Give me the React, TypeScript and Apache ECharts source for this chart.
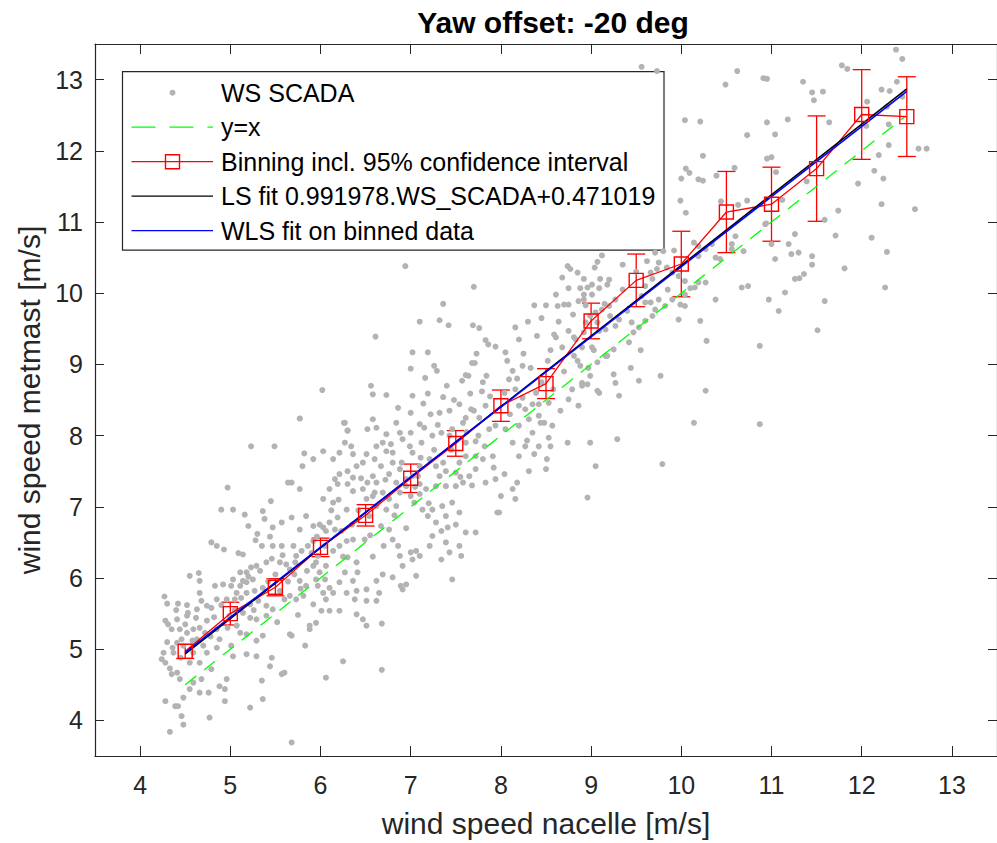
import React, { useEffect, useRef } from "react";
import * as echarts from "echarts";

// ---------- data ----------
const titleText = "Yaw offset: -20 deg";
const xAxisTitle = "wind speed nacelle [m/s]";
const yAxisTitle = "wind speed metmast [m/s]";
const xTicks = [4, 5, 6, 7, 8, 9, 10, 11, 12, 13];
const yTicks = [4, 5, 6, 7, 8, 9, 10, 11, 12, 13];

const binX = [4.5, 5, 5.5, 6, 6.5, 7, 7.5, 8, 8.5, 9, 9.5, 10, 10.5, 11, 11.5, 12, 12.5];
const binMean = [4.97, 5.5, 5.87, 6.43, 6.88, 7.4, 7.89, 8.42, 8.73, 9.61, 10.18, 10.41, 11.14, 11.25, 11.75, 12.51, 12.48];
const binCI = [0.1, 0.16, 0.12, 0.13, 0.15, 0.2, 0.18, 0.22, 0.21, 0.25, 0.37, 0.46, 0.57, 0.52, 0.74, 0.63, 0.56];

const fitX = [4.5, 12.5];
const refY = [4.5, 12.5];
const lsY = [4.935, 12.871];
const wlsY = [4.955, 12.835];

const legendLabels = [
  "WS SCADA",
  "y=x",
  "Binning incl. 95% confidence interval",
  "LS fit 0.991978.WS_SCADA+0.471019",
  "WLS fit on binned data",
];

const scadaPoints: [number, number][] = [
  [4.27,5.74],[4.30,5.64],[4.42,5.64],[4.53,5.51],[4.55,6.03],[4.65,6.07],[4.66,5.96],[4.66,5.79],
  [4.28,5.40],[4.31,5.35],[4.35,5.28],[4.44,5.28],[4.52,5.23],[4.59,5.28],[4.66,5.30],[4.74,5.40],
  [4.79,5.58],[4.85,5.70],[4.92,5.91],[4.46,5.14],[4.41,5.09],[4.26,4.95],[4.28,4.81],[4.33,4.73],
  [4.35,4.65],[4.41,4.67],[4.44,4.58],[4.55,4.81],[4.66,4.81],[4.59,4.95],[4.74,4.95],[4.79,4.72],
  [4.68,4.58],[4.55,4.44],[4.48,4.32],[4.42,4.20],[4.28,4.27],[4.39,4.20],[4.46,4.06],[4.48,3.94],
  [4.33,3.84],[4.66,4.39],[4.77,4.04],[4.94,4.44],[4.94,4.27],[4.96,4.58],[4.88,4.48],[5.22,4.18],
  [5.36,4.30],[5.35,4.56],[5.18,4.93],[5.29,4.90],[5.46,4.88],[5.44,4.76],[5.57,4.65],[5.60,4.67],
  [5.68,3.69],[5.83,5.05],[5.88,5.28],[6.06,4.60],[6.25,4.83],[6.68,4.71],[6.68,5.36],[6.51,5.33],
  [6.47,5.42],
  [4.24,4.86],[4.37,4.95],[4.48,5.05],[4.63,5.14],[4.72,5.23],[4.41,5.42],[4.52,5.47],[4.63,5.56],
  [4.74,5.61],[4.83,5.89],[4.96,5.70],[5.01,5.89],[5.03,5.98],[5.11,6.08],[5.18,5.94],[5.25,5.98],
  [4.99,5.47],[5.07,5.33],[5.11,5.23],[4.85,5.28],[4.88,5.14],[5.01,5.05],[5.03,4.90],[4.59,4.53],
  [4.76,4.39],
  [4.36,5.02],[4.45,4.88],[4.50,5.35],[4.58,5.12],[4.62,5.44],[4.70,5.05],[4.78,5.18],[4.82,5.45],
  [4.90,5.62],[4.97,5.30],[4.40,5.55],[4.30,5.10],[4.52,5.62],[4.68,5.68],[4.85,5.02],
  [4.90,6.96],[5.03,6.96],[4.79,6.50],[4.85,6.45],[4.93,6.40],[4.97,7.27],[5.09,6.35],[5.14,6.33],
  [5.23,7.85],[5.16,6.89],[5.20,6.73],[5.28,6.53],[5.36,6.94],[5.38,6.83],[5.45,7.08],[5.35,6.45],
  [5.47,6.71],[5.49,7.85],[5.57,6.78],[5.47,6.45],[5.57,6.45],[5.40,6.22],[5.46,6.27],[5.55,6.22],
  [5.29,6.17],[5.23,6.15],[5.18,6.08],[5.14,5.96],[5.11,5.89],[5.07,5.79],[5.05,5.70],[5.18,5.79],
  [5.27,5.82],[5.36,5.86],[5.31,5.68],[5.22,5.63],[5.14,5.51],[5.22,5.44],[5.29,5.42],[5.40,5.61],
  [5.40,5.47],[5.47,5.56],[5.36,5.19],[5.29,5.12],[5.18,5.21],[5.66,5.21],[5.68,5.19],[5.60,5.70],
  [5.66,5.75],[5.73,5.70],[5.81,5.75],[5.84,5.89],[5.77,5.96],[5.71,6.05],[5.66,6.12],[5.62,6.19],
  [5.73,6.31],[5.79,6.38],[5.86,6.45],[5.92,6.52],[5.70,6.45],[5.77,6.68],[5.84,6.87],[5.68,6.85],
  [5.77,7.25],[5.64,7.34],[5.68,7.34],[5.80,7.57],[5.82,7.75],[5.77,8.24],[5.92,6.73],[5.99,6.75],
  [6.03,6.71],[6.06,6.66],[5.97,6.31],[5.95,6.22],[5.92,6.17],[5.99,6.08],[6.06,6.17],[6.05,5.98],
  [5.97,5.89],[6.10,5.86],[6.03,5.79],[6.06,5.70],[5.92,5.63],[6.01,5.54],[5.95,5.37],[5.88,5.33],
  [6.10,5.54],[6.21,5.54],[6.14,5.79],[6.21,5.94],[6.29,5.79],[6.40,5.82],[6.36,5.96],[6.41,6.08],
  [6.27,6.08],[6.30,6.29],[6.21,6.45],[6.14,6.38],[6.29,6.52],[6.36,6.54],[6.49,6.54],[6.23,6.66],
  [6.16,6.68],[6.10,6.78],[6.19,6.85],[6.29,6.96],[6.14,7.06],[6.03,7.11],[6.10,7.25],[6.19,7.32],
  [6.30,7.32],[6.36,7.22],[6.47,7.25],[6.52,7.34],[6.62,7.34],[6.58,7.43],[6.36,7.41],[6.30,7.50],
  [6.21,7.46],[6.14,7.67],[6.21,7.76],[6.27,7.90],[6.27,8.18],[6.30,8.07],[6.03,7.78],[5.92,7.67],
  [6.16,7.39],
  [5.05,5.55],[5.12,5.72],[5.20,6.02],[5.26,5.55],[5.33,6.10],[5.42,5.95],[5.50,6.05],[5.55,5.82],
  [5.58,6.32],[5.64,5.95],[5.72,6.22],[5.78,5.85],[5.85,6.10],[5.90,6.35],[5.96,6.58],[5.52,5.38],
  [5.75,5.48],[5.95,5.98],[5.44,6.58],[5.30,6.62],
  [6.51,7.11],[6.58,7.15],[6.69,7.20],[6.76,7.11],[6.84,7.01],[6.73,6.96],[6.62,7.01],[6.54,6.87],
  [6.67,6.73],[6.76,6.68],[6.80,6.54],[6.86,6.45],[6.88,6.31],[6.91,6.17],[6.89,5.89],[6.80,6.01],
  [6.69,6.05],[6.62,5.96],[6.65,5.79],[6.51,5.84],[6.62,5.68],[6.51,5.68],[6.38,5.70],[6.40,5.49],
  [7.00,6.36],[7.06,6.38],[7.02,6.26],[7.10,6.31],[7.21,6.45],[7.24,6.59],[7.34,6.66],[7.39,6.50],
  [7.43,6.36],[7.54,6.45],[7.56,6.31],[7.34,6.26],[7.46,5.98],[7.06,6.03],[6.95,5.91],[6.91,5.84],
  [7.28,6.78],[7.41,6.71],[7.50,6.75],[7.61,6.64],[7.72,6.64],[7.19,6.87],[7.24,6.96],[7.35,7.01],
  [7.46,7.06],[7.39,6.87],[7.54,6.92],[7.13,6.96],[7.04,7.06],[7.00,7.15],[7.10,7.18],[7.17,7.25],
  [7.28,7.29],[7.39,7.29],[7.50,7.29],[7.58,7.34],[7.65,7.43],[7.72,7.53],[7.83,7.34],[7.94,7.39],
  [7.96,6.92],[7.80,7.67],[7.91,7.71],[7.72,7.71],[7.61,7.71],[7.54,7.62],[7.50,7.48],[7.39,7.50],
  [7.32,7.43],[7.28,7.57],[7.21,7.67],[7.11,7.69],[7.02,7.76],[7.00,8.04],[7.00,8.32],[6.86,8.39],
  [7.10,8.16],[7.15,8.11],[7.24,8.00],[7.34,8.04],[7.43,8.00],[7.46,8.09],[7.58,8.18],[7.61,8.25],
  [7.67,8.37],[7.54,8.44],[7.43,8.35],[7.32,8.32],[7.22,8.30],[7.76,8.25],[7.83,8.42],[7.87,8.09],
  [7.94,8.14],[7.61,7.90],[7.72,7.92],[6.78,7.88],[6.73,7.78],[6.80,7.76],[6.69,7.90],[6.62,7.85],
  [6.60,7.67],[6.67,7.57],[6.76,7.46],[6.84,7.34],[6.80,7.62],[6.51,7.74],[6.47,7.62],[6.40,7.57],
  [6.36,7.74],[6.34,7.85],[6.58,8.23],[6.62,8.11],[6.52,8.09],[6.73,8.02],[6.84,8.18],[6.88,8.04],
  [6.91,7.95],[6.99,7.85],[7.10,7.57],[7.08,7.43],[6.88,7.53],[6.95,7.39],[6.95,7.29],[6.88,7.20],
  [7.02,7.43],[7.10,7.32],
  [6.05,6.45],[6.12,6.95],[6.20,7.10],[6.25,6.30],[6.35,6.75],[6.42,6.95],[6.45,7.40],[6.55,6.60],
  [6.60,7.20],[6.70,6.45],[6.72,7.38],[6.82,6.88],[6.90,7.62],[6.95,6.70],[6.40,6.22],[6.58,6.30],
  [7.05,7.28],[7.12,7.90],[7.20,7.05],[7.26,7.80],[7.30,8.15],[7.36,7.62],[7.45,7.80],[7.48,8.50],
  [7.55,7.42],[7.62,8.05],[7.68,7.30],[7.75,8.00],[7.82,7.85],[7.88,8.55],[7.92,7.55],[7.40,8.70],
  [7.14,8.45],[7.70,8.35],
  [9.12,10.53],[9.07,10.44],[9.04,10.36],[8.74,10.38],[8.77,10.34],[8.68,10.22],[8.85,10.29],[8.92,10.20],
  [8.96,10.08],[9.01,10.12],[9.10,10.20],[9.20,10.19],[9.18,10.12],[8.75,10.07],[8.88,10.07],[8.92,9.98],
  [8.92,9.91],[8.86,9.89],[8.94,9.83],[9.01,9.98],[9.09,10.07],[9.27,9.91],[9.20,9.82],[9.12,9.77],
  [9.05,9.73],[9.21,9.68],[9.31,9.63],[9.27,9.54],[9.16,9.49],[9.09,9.47],[9.07,9.59],[8.99,9.68],
  [8.94,9.59],[8.75,9.84],[8.63,9.82],[8.70,9.84],[8.50,9.83],[8.37,9.83],[8.61,9.98],[8.59,9.42],
  [8.61,9.38],[8.55,9.20],[8.68,9.24],[8.75,9.47],[8.81,9.38],[8.83,9.35],[8.81,9.12],[8.90,9.24],
  [8.88,8.98],[9.01,9.24],[9.03,9.20],[9.07,9.03],[9.16,9.12],[9.18,9.12],[9.25,9.21],[9.42,9.31],
  [9.45,9.59],[9.47,9.45],[9.53,9.52],[9.60,9.61],[9.68,9.68],[9.71,9.77],[9.66,9.87],[9.75,9.91],
  [9.82,9.82],[9.90,9.91],[9.99,9.84],[10.04,9.98],[10.10,10.07],[10.15,10.08],[10.19,10.15],[10.04,10.17],
  [9.97,10.24],[9.90,10.29],[9.84,10.36],[9.73,10.34],[9.68,10.20],[9.60,10.10],[9.56,9.96],[9.60,9.87],
  [9.66,10.29],[9.75,10.43],[9.71,10.57],[9.80,10.59],[10.19,10.52],[10.27,10.62],[10.34,10.69],[10.19,10.66],
  [10.14,10.71],[10.38,10.50],[10.27,10.15],[10.21,9.61],[10.28,9.33],[10.27,8.63],[10.14,8.18],[10.38,9.91],
  [10.43,10.48],[10.56,10.69],[10.60,10.80],[10.69,10.59],[10.56,10.62],[10.67,10.08],[10.74,10.10],[10.87,9.26],
  [10.87,8.16],[10.97,9.91],[11.08,9.75],[11.15,10.01],[11.04,10.48],[11.19,10.69],[11.22,10.55],[11.26,10.83],
  [10.93,10.97],[11.00,10.69],[11.26,10.20],
  [8.16,9.52],[8.20,9.35],[8.24,8.98],[8.13,8.91],[8.05,9.17],[8.07,9.05],[8.09,8.79],[8.04,8.60],
  [8.16,8.65],[8.24,8.53],[8.20,8.42],[8.27,8.37],[8.35,8.44],[8.39,8.60],[8.31,8.23],[8.35,8.04],
  [8.42,8.28],[8.44,8.18],[8.48,8.18],[8.42,8.44],[8.53,8.46],[8.57,8.14],[8.53,7.97],[8.55,7.85],
  [8.42,7.85],[8.29,7.93],[8.27,7.85],[8.13,7.90],[8.20,8.14],[8.05,8.09],[8.37,7.74],[8.20,7.71],
  [8.31,7.50],[8.50,7.53],[8.51,7.67],[8.66,8.35],[8.74,7.90],[8.75,8.51],[8.79,8.65],[8.86,8.42],
  [8.90,8.70],[8.96,8.72],[9.07,8.63],[9.09,8.60],[8.99,8.84],[8.90,8.74],[8.99,7.90],[9.05,7.57],
  [8.96,7.13],[9.29,7.95],[9.31,8.56],[9.25,8.86],[9.27,8.74],[9.44,8.95],[9.53,8.77],[9.77,8.84],
  [9.79,7.60],[9.97,9.63],[10.04,9.82],[8.04,7.46],[8.13,7.25],[8.18,7.34],[8.00,7.15],[8.16,7.11],
  [7.98,6.92],
  [8.10,8.30],[8.18,8.80],[8.25,9.15],[8.33,8.95],[8.40,9.40],[8.45,8.75],[8.52,9.05],[8.58,8.65],
  [8.64,9.60],[8.70,8.90],[8.80,9.70],[8.85,9.05],[8.92,9.45],[8.97,8.95],[8.45,9.65],[8.30,9.60],
  [9.15,9.85],[9.35,10.05],[9.40,9.75],[9.50,10.30],[9.55,9.20],[9.62,10.45],[9.85,10.05],[9.92,10.60],
  [9.35,10.40],
  [6.94,10.38],[7.70,10.09],[7.36,9.85],[7.10,9.60],[7.32,9.62],[7.42,9.55],[7.69,9.55],[7.76,9.51],
  [6.61,9.39],[7.83,9.34],[7.86,9.28],[7.94,9.25],[7.02,9.17],[7.19,9.17],[7.73,9.15],[7.26,8.98],
  [7.29,8.91],[7.00,8.94],[7.68,9.02],[7.71,9.02],[7.16,8.81],[7.61,8.85],[7.64,8.84],[7.57,8.77],
  [7.84,8.84],[7.80,8.75],[6.56,8.70],[6.02,8.64],[6.58,8.58],[6.73,8.57],[7.19,8.59],[7.02,8.56],
  [7.36,8.54],[7.79,8.62],[7.66,8.59],[5.77,8.24],[6.26,8.18],[6.30,8.07],
  [9.56,13.18],[9.73,13.12],[10.62,13.12],[10.49,12.93],[10.91,13.02],[10.95,13.01],[10.04,12.43],[10.21,12.41],
  [10.95,12.40],[11.18,12.44],[10.73,12.22],[11.04,12.23],[10.24,11.93],[10.95,11.89],[11.00,11.91],[10.05,11.75],
  [10.09,11.69],[10.00,11.61],[10.19,11.60],[10.24,11.58],[10.39,11.65],[10.59,11.76],[11.05,11.70],[9.99,11.30],
  [10.05,11.13],[10.44,11.29],[10.63,11.24],[10.73,11.30],[11.12,11.31],[10.94,10.98],
  [12.38,13.42],[12.45,13.29],[11.78,13.20],[11.84,13.15],[11.35,12.97],[11.45,12.82],[11.57,12.83],[11.47,12.71],
  [12.39,12.97],[12.22,12.86],[12.31,12.84],[12.06,12.69],[12.28,12.62],[12.45,12.76],[11.64,12.40],[12.05,12.35],
  [12.30,12.37],[12.30,12.08],[12.19,11.94],[12.63,12.03],[12.72,12.03],[12.14,11.72],[12.24,11.61],[11.96,11.54],
  [11.39,11.57],[12.22,11.25],[12.59,11.18],[11.74,11.16],[11.59,11.03],[11.71,10.81],[12.11,10.78],
  [11.30,10.57],[11.45,10.52],[12.28,10.58],[11.45,10.40],[11.81,10.35],[11.36,10.27],[11.31,10.21],[12.26,10.08],
  [11.59,9.89],[11.51,9.48],
];

// ---------- styles ----------
const FONT = "'Liberation Sans', Arial, Helvetica, sans-serif";
const AXIS_COLOR = "#262626";
const DOT = "#b3b3b3";
const RED = "#ff0000";
const GREEN = "#00ff00";
const BLUE = "#0000ff";

export default function App() {
  const ref = useRef<HTMLDivElement>(null);

  useEffect(() => {
    if (!ref.current) return;
    const chart = echarts.init(ref.current, null, { renderer: "svg" });

    const axisCommon = {
      type: "value",
      min: 3.5,
      max: 13.5,
      splitLine: { show: false },
      axisLine: { show: true, onZero: false, lineStyle: { color: AXIS_COLOR, width: 1.2 } },
    };

    // legend geometry
    const lgX = 122.5, lgY = 71.7, lgW = 541.5, lgH = 178.5;
    const rowY = [92.7, 127.2, 161.7, 196.2, 230.7];
    const sx1 = 131.5, sx2 = 213, tx = 221;
    const mkX = 172.5;
    const legendText = (i: number) => ({
      type: "text",
      x: tx,
      y: rowY[i],
      style: {
        text: legendLabels[i],
        font: `25px ${FONT}`,
        fill: "#000",
        textVerticalAlign: "middle",
        verticalAlign: "middle",
      },
    });
    const sample = (i: number, color: string, dash?: number[]) => ({
      type: "line",
      shape: { x1: sx1, y1: rowY[i], x2: sx2, y2: rowY[i] },
      style: { stroke: color, lineWidth: 1.3, lineDash: dash },
    });

    const option: any = {
      animation: false,
      backgroundColor: "#ffffff",
      title: {
        text: titleText,
        left: 548,
        top: 2,
        textAlign: "center",
        textStyle: { fontFamily: FONT, fontWeight: "bold", fontSize: 30, color: "#000" },
      },
      grid: { left: 95, top: 44, right: -2, bottom: 86, containLabel: false },
      xAxis: [
        {
          ...axisCommon,
          position: "bottom",
          name: xAxisTitle,
          nameLocation: "middle",
          nameGap: 52,
          nameTextStyle: { fontFamily: FONT, fontSize: 30, color: AXIS_COLOR },
          axisTick: { show: true, inside: true, length: 10, customValues: xTicks, lineStyle: { color: AXIS_COLOR } },
          axisLabel: { customValues: xTicks, margin: 16, fontFamily: FONT, fontSize: 25, color: AXIS_COLOR },
        },
        {
          ...axisCommon,
          position: "top",
          axisTick: { show: true, inside: true, length: 10, customValues: xTicks, lineStyle: { color: AXIS_COLOR } },
          axisLabel: { show: false },
        },
      ],
      yAxis: [
        {
          ...axisCommon,
          position: "left",
          name: yAxisTitle,
          nameLocation: "middle",
          nameGap: 47,
          nameTextStyle: { fontFamily: FONT, fontSize: 30, color: AXIS_COLOR },
          axisTick: { show: true, inside: true, length: 9, customValues: yTicks, lineStyle: { color: AXIS_COLOR } },
          axisLabel: { customValues: yTicks, margin: 12, fontFamily: FONT, fontSize: 25, color: AXIS_COLOR },
        },
        {
          ...axisCommon,
          position: "right",
          axisTick: { show: true, inside: true, length: 9, customValues: yTicks, lineStyle: { color: AXIS_COLOR } },
          axisLabel: { show: false },
        },
      ],
      series: [
        {
          name: legendLabels[0],
          type: "scatter",
          data: scadaPoints,
          symbol: "circle",
          symbolSize: 6,
          itemStyle: { color: DOT, opacity: 1 },
          silent: true,
        },
        {
          name: legendLabels[1],
          type: "line",
          data: fitX.map((x, i) => [x, refY[i]]),
          showSymbol: false,
          lineStyle: { color: GREEN, width: 1.3, type: [14, 10] },
          silent: true,
        },
        {
          name: "ci",
          type: "custom",
          data: binX.map((x, i) => [x, binMean[i] - binCI[i], binMean[i] + binCI[i]]),
          encode: { x: 0, y: [1, 2] },
          renderItem: (params: any, api: any) => {
            const x = api.value(0);
            const lo = api.coord([x, api.value(1)]);
            const hi = api.coord([x, api.value(2)]);
            const hw = 9;
            const st = { stroke: RED, lineWidth: 1.3, fill: "none" };
            return {
              type: "group",
              children: [
                { type: "line", shape: { x1: lo[0], y1: lo[1], x2: hi[0], y2: hi[1] }, style: st },
                { type: "line", shape: { x1: lo[0] - hw, y1: lo[1], x2: lo[0] + hw, y2: lo[1] }, style: st },
                { type: "line", shape: { x1: hi[0] - hw, y1: hi[1], x2: hi[0] + hw, y2: hi[1] }, style: st },
              ],
            };
          },
          silent: true,
        },
        {
          name: legendLabels[2],
          type: "line",
          data: binX.map((x, i) => [x, binMean[i]]),
          showSymbol: true,
          symbol: "rect",
          symbolSize: 14,
          itemStyle: { color: "rgba(0,0,0,0)", borderColor: RED, borderWidth: 1.4 },
          lineStyle: { color: RED, width: 1.3 },
          silent: true,
        },
        {
          name: legendLabels[3],
          type: "line",
          data: fitX.map((x, i) => [x, lsY[i]]),
          showSymbol: false,
          lineStyle: { color: "#000000", width: 1.6 },
          silent: true,
        },
        {
          name: legendLabels[4],
          type: "line",
          data: fitX.map((x, i) => [x, wlsY[i]]),
          showSymbol: false,
          lineStyle: { color: BLUE, width: 1.6 },
          silent: true,
        },
      ],
      graphic: [
        {
          type: "group",
          z: 100,
          silent: true,
          children: [
            {
              type: "rect",
              shape: { x: lgX, y: lgY, width: lgW, height: lgH },
              style: { fill: "#ffffff", stroke: AXIS_COLOR, lineWidth: 1.2 },
            },
            { type: "circle", shape: { cx: mkX, cy: rowY[0], r: 3 }, style: { fill: DOT } },
            legendText(0),
            sample(1, GREEN, [24, 14]),
            legendText(1),
            sample(2, RED),
            {
              type: "rect",
              shape: { x: mkX - 7, y: rowY[2] - 7, width: 14, height: 14 },
              style: { fill: "none", stroke: RED, lineWidth: 1.4 },
            },
            legendText(2),
            sample(3, "#000000"),
            legendText(3),
            sample(4, BLUE),
            legendText(4),
          ],
        },
      ],
    };

    chart.setOption(option);
    return () => chart.dispose();
  }, []);

  return (
    <div
      ref={ref}
      style={{ position: "fixed", left: 0, top: 0, width: 997, height: 843, background: "#fff" }}
    />
  );
}
